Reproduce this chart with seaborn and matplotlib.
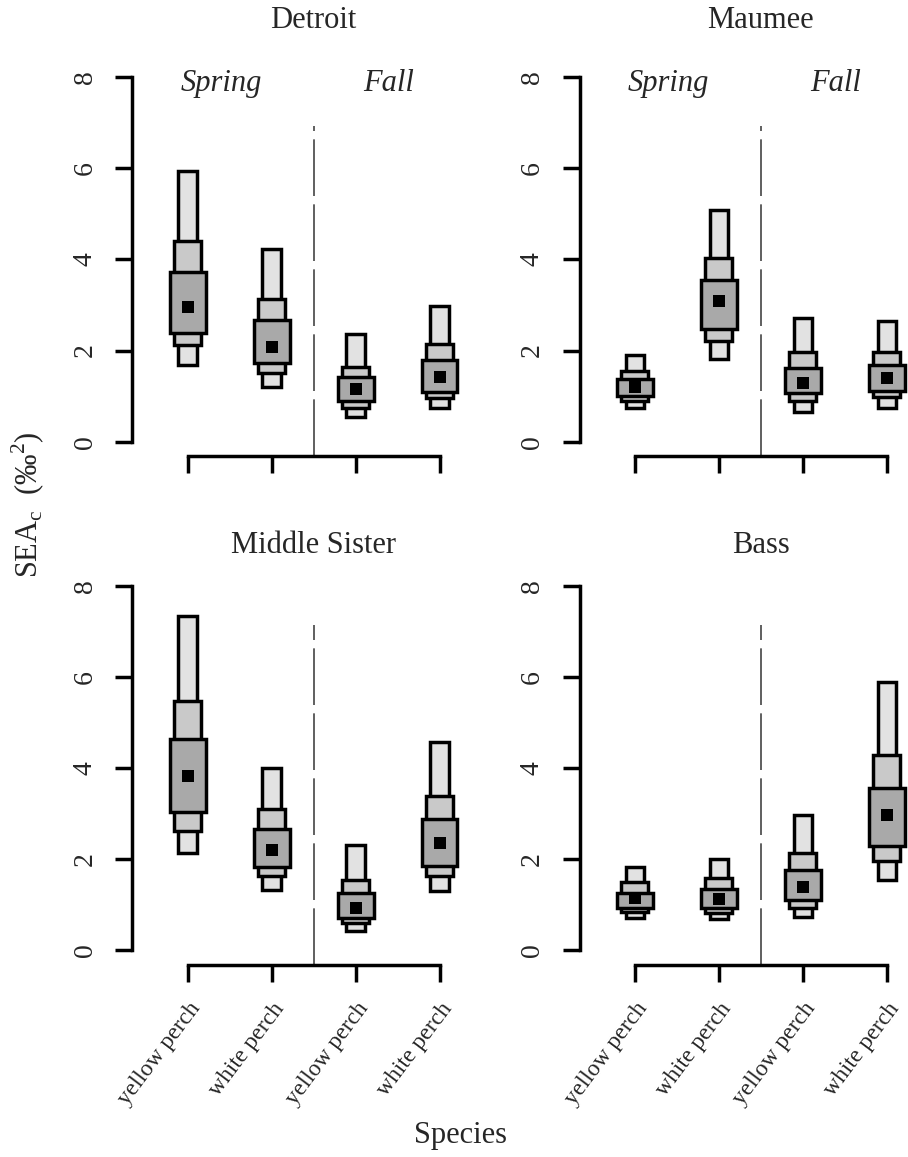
import matplotlib
matplotlib.use("Agg")
import matplotlib.pyplot as plt
import seaborn as sns
import pandas as pd

# panels and groups
sites = ["Detroit", "Maumee", "Middle Sister", "Bass"]
species = ["yellow perch", "white perch", "yellow perch", "white perch"]
seasons = ["Spring", "Fall"]

# SEAc credible intervals, 4 groups per site in the order of `species`
mode = [2.95, 2.07, 1.15, 1.42,
        1.19, 3.09, 1.29, 1.39,
        3.82, 2.21, 0.93, 2.36,
        1.15, 1.13, 1.39, 2.98]
lo50 = [2.39, 1.73, 0.90, 1.09,
        1.00, 2.48, 1.06, 1.12,
        3.03, 1.83, 0.71, 1.85,
        0.93, 0.93, 1.10, 2.29]
hi50 = [3.72, 2.68, 1.42, 1.80,
        1.37, 3.55, 1.61, 1.68,
        4.63, 2.67, 1.26, 2.89,
        1.27, 1.35, 1.77, 3.57]
lo75 = [2.12, 1.51, 0.73, 0.95,
        0.90, 2.21, 0.90, 0.97,
        2.62, 1.64, 0.60, 1.63,
        0.84, 0.82, 0.93, 1.96]
hi75 = [4.41, 3.12, 1.64, 2.15,
        1.55, 4.03, 1.97, 1.97,
        5.47, 3.11, 1.55, 3.38,
        1.49, 1.59, 2.14, 4.28]
lo95 = [1.68, 1.19, 0.55, 0.75,
        0.75, 1.82, 0.66, 0.75,
        2.13, 1.33, 0.42, 1.30,
        0.71, 0.69, 0.73, 1.54]
hi95 = [5.93, 4.22, 2.36, 2.97,
        1.90, 5.08, 2.72, 2.65,
        7.34, 3.99, 2.32, 4.57,
        1.83, 2.01, 2.98, 5.89]
divider_top = [6.92, 6.92, 7.14, 7.14]

df = pd.DataFrame({
    "site": [s for s in sites for _ in species],
    "x": [i + 1 for _ in sites for i in range(len(species))],
    "mode": mode,
    "lo50": lo50, "hi50": hi50,
    "lo75": lo75, "hi75": hi75,
    "lo95": lo95, "hi95": hi95,
})

sns.set_theme(style="ticks")
plt.rcParams["font.family"] = ["Liberation Serif", "DejaVu Serif"]
plt.rcParams["mathtext.fontset"] = "custom"
plt.rcParams["mathtext.rm"] = "Liberation Serif"

# (lower, upper, width, fill) drawn widest-on-top
levels = [("lo95", "hi95", 0.22, "#e2e2e2"),
          ("lo75", "hi75", 0.32, "#c9c9c9"),
          ("lo50", "hi50", 0.425, "#a9a9a9")]
LW = 2.5

W, H = 908, 1157
fig = plt.figure(figsize=(W / 100, H / 100), dpi=100)
lefts = [132.3 / W, 579.5 / W]
bottoms = [1 - 456.3 / H, 1 - 965 / H]
aw, ah = 0.3995, 0.3405

for i, site in enumerate(sites):
    row, col = divmod(i, 2)
    ax = fig.add_axes([lefts[col], bottoms[row], aw, ah])
    d = df[df.site == site]
    for z, (lo, hi, w, c) in enumerate(levels):
        ax.bar(d["x"], d[hi] - d[lo], bottom=d[lo], width=w, color=c,
               edgecolor="black", linewidth=LW, zorder=2 + z)
    sns.scatterplot(data=d, x="x", y="mode", marker="s", s=75, color="black",
                    linewidth=0, ax=ax, zorder=6, legend=False)

    ax.set_xlim(0.34, 4.66)
    ax.set_ylim(-0.32, 8.32)
    line, = ax.plot([2.5, 2.5], [-0.32, divider_top[i]], color="#444444",
                    linewidth=1.2, zorder=1)
    line.set_dashes((34, 5))

    sns.despine(ax=ax)
    ax.spines["left"].set_bounds(0, 8)
    ax.spines["bottom"].set_bounds(1, 4)
    for sp in ("left", "bottom"):
        ax.spines[sp].set_linewidth(LW)
        ax.spines[sp].set_color("black")

    ax.set_yticks([0, 2, 4, 6, 8])
    ax.set_yticklabels(["0", "2", "4", "6", "8"], rotation=90, va="center",
                       fontsize=20)
    ax.set_xticks([1, 2, 3, 4])
    if row == 1:
        ax.set_xticklabels(species, rotation=53, ha="right",
                           rotation_mode="anchor", fontsize=17)
    else:
        ax.set_xticklabels([])
    ax.tick_params(axis="both", direction="out", length=12, width=LW,
                   color="black")
    ax.tick_params(axis="y", pad=13)
    ax.tick_params(axis="x", pad=12)
    ax.set_xlabel("")
    ax.set_ylabel("")

    ty = 1.105 if row == 0 else 1.066
    ax.text(0.5, ty, site, transform=ax.transAxes, ha="center", va="center",
            fontsize=22)
    if row == 0:
        ax.text(1.40, 7.85, seasons[0], style="italic", ha="center",
                va="center", fontsize=22)
        ax.text(3.39, 7.85, seasons[1], style="italic", ha="center",
                va="center", fontsize=22)

fig.text(28 / W, 1 - 505 / H, r"SEA$_\mathregular{c}$  (‰$^\mathregular{2}$)",
         rotation=90, ha="center", va="center", fontsize=22)
fig.text(460 / W, 1 - 1135 / H, "Species", ha="center", va="center",
         fontsize=22)

fig.savefig("out.png", dpi=100, facecolor="white")
